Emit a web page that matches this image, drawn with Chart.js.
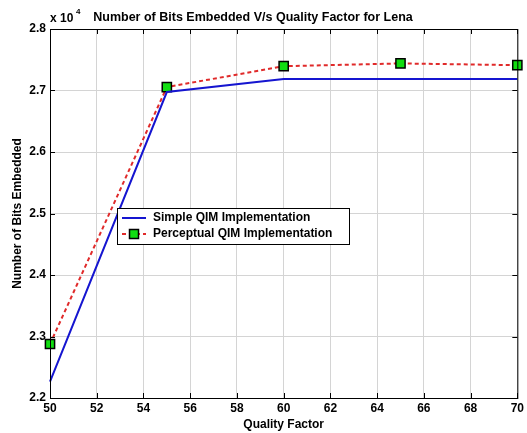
<!DOCTYPE html>
<html>
<head>
<meta charset="utf-8">
<script src="https://cdn.jsdelivr.net/npm/chart.js@4/dist/chart.umd.min.js"></script>
<style>
  html, body { margin: 0; padding: 0; background: #fff; }
  #wrap { width: 527px; height: 433px; position: relative; }
</style>
</head>
<body>
<div id="wrap"><canvas id="chart"></canvas></div>
<script>
const qualityFactors = [50, 55, 60, 65, 70];
const simpleQim = [22265, 26975, 27185, 27185, 27185];
const perceptualQim = [22878, 27055, 27395, 27440, 27412];
const xTicks = [50, 52, 54, 56, 58, 60, 62, 64, 66, 68, 70];
const yTicks = [22000, 23000, 24000, 25000, 26000, 27000, 28000];

const FONT = '"Liberation Sans", Arial, sans-serif';

// matlab-ish box, title, exponent and in-axes legend
const decor = {
  id: 'decor',
  afterDraw(chart) {
    const { ctx, chartArea: a } = chart;
    ctx.save();
    ctx.strokeStyle = '#000';
    ctx.lineWidth = 1;
    ctx.strokeRect(a.left + 0.5, a.top + 0.5, a.right - a.left, a.bottom - a.top);

    // small inward ticks on all four sides
    const xs = chart.scales.x, ys = chart.scales.y;
    ctx.beginPath();
    xTicks.forEach((v) => {
      const px = Math.round(xs.getPixelForValue(v)) + 0.5;
      ctx.moveTo(px, a.top); ctx.lineTo(px, a.top + 5);
      ctx.moveTo(px, a.bottom); ctx.lineTo(px, a.bottom - 5);
    });
    yTicks.forEach((v) => {
      const py = Math.round(ys.getPixelForValue(v)) + 0.5;
      ctx.moveTo(a.left, py); ctx.lineTo(a.left + 5, py);
      ctx.moveTo(a.right, py); ctx.lineTo(a.right - 5, py);
    });
    ctx.stroke();

    ctx.fillStyle = '#000';
    ctx.font = 'bold 12.5px ' + FONT;
    ctx.textAlign = 'center';
    ctx.textBaseline = 'alphabetic';
    ctx.fillText('Number of Bits Embedded V/s Quality Factor for Lena', 253, 21);

    ctx.textAlign = 'left';
    ctx.font = 'bold 12px ' + FONT;
    ctx.fillText('x 10', 50, 22);
    ctx.font = 'bold 8px ' + FONT;
    ctx.fillText('4', 76, 14);

    // legend box
    const lx = 117, ly = 208, lw = 232, lh = 36;
    ctx.fillStyle = '#fff';
    ctx.fillRect(lx, ly, lw, lh);
    ctx.strokeStyle = '#000';
    ctx.lineWidth = 1;
    ctx.strokeRect(lx + 0.5, ly + 0.5, lw, lh);

    ctx.lineWidth = 2;
    ctx.strokeStyle = '#1515d0';
    ctx.beginPath(); ctx.moveTo(122, 218); ctx.lineTo(146, 218); ctx.stroke();

    ctx.strokeStyle = '#e02a2a';
    ctx.setLineDash([4, 3]);
    ctx.beginPath(); ctx.moveTo(122, 234); ctx.lineTo(146, 234); ctx.stroke();
    ctx.setLineDash([]);
    ctx.lineWidth = 1.5;
    ctx.fillStyle = '#11dd11';
    ctx.strokeStyle = '#000';
    ctx.fillRect(129.5, 229.5, 9, 9);
    ctx.strokeRect(129.5, 229.5, 9, 9);

    ctx.fillStyle = '#000';
    ctx.font = 'bold 12px ' + FONT;
    ctx.textBaseline = 'middle';
    ctx.fillText('Simple QIM Implementation', 153, 218);
    ctx.fillText('Perceptual QIM Implementation', 153, 234);
    ctx.restore();
  }
};

new Chart(document.getElementById('chart'), {
  type: 'line',
  data: {
    datasets: [
      {
        label: 'Simple QIM Implementation',
        data: qualityFactors.map((x, i) => ({ x, y: simpleQim[i] })),
        borderColor: '#1515d0',
        borderWidth: 2,
        pointRadius: 0,
        tension: 0,
        clip: false
      },
      {
        label: 'Perceptual QIM Implementation',
        data: qualityFactors.map((x, i) => ({ x, y: perceptualQim[i] })),
        borderColor: '#e02a2a',
        borderWidth: 2,
        borderDash: [4, 3],
        pointStyle: 'rect',
        pointRadius: 6.5,
        pointBackgroundColor: '#11dd11',
        pointBorderColor: '#000',
        pointBorderWidth: 1.5,
        tension: 0,
        clip: false
      }
    ]
  },
  options: {
    responsive: true,
    maintainAspectRatio: false,
    animation: false,
    layout: { padding: { top: 29, right: 9, left: 10, bottom: 0 } },
    plugins: { legend: { display: false }, tooltip: { enabled: false } },
    scales: {
      x: {
        type: 'linear',
        min: 50, max: 70,
        afterBuildTicks: (s) => { s.ticks = xTicks.map((v) => ({ value: v })); },
        afterFit: (s) => { s.height = 35; },
        grid: { color: '#d4d4d4', drawTicks: false },
        border: { color: '#000' },
        ticks: { color: '#000', font: { family: FONT, size: 12, weight: 'bold' }, padding: 3, maxRotation: 0 },
        title: { display: true, text: 'Quality Factor', color: '#000', font: { family: FONT, size: 12, weight: 'bold' }, padding: { top: 0, bottom: 1 } }
      },
      y: {
        type: 'linear',
        min: 22000, max: 28000,
        afterBuildTicks: (s) => { s.ticks = yTicks.map((v) => ({ value: v })); },
        afterFit: (s) => { s.width = 40; },
        grid: { color: '#d4d4d4', drawTicks: false },
        border: { color: '#000' },
        ticks: {
          color: '#000', font: { family: FONT, size: 12, weight: 'bold' }, padding: 4,
          callback: (v) => (v / 10000).toFixed(1)
        },
        title: { display: true, text: 'Number of Bits Embedded', color: '#000', font: { family: FONT, size: 12, weight: 'bold' }, padding: { top: 0, bottom: 0 } }
      }
    }
  },
  plugins: [decor]
});
</script>
</body>
</html>
